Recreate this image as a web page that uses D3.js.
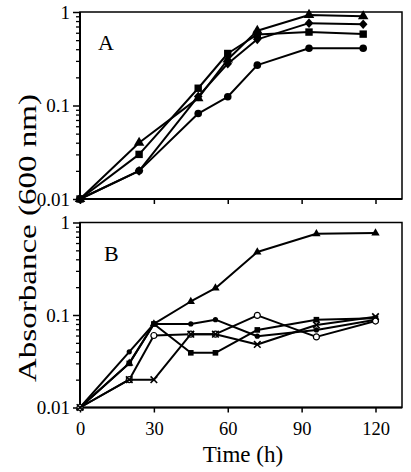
<!DOCTYPE html>
<html><head><meta charset="utf-8">
<script src="https://cdn.jsdelivr.net/npm/d3@7"></script>
<style>body{margin:0;background:#fff}svg{display:block}text{font-family:"Liberation Serif","Times New Roman",serif;fill:#000}</style>
</head><body><svg id="c" width="411" height="472"></svg>
<script>
// Panel A data
const timesA = [0, 24, 48, 60, 72, 93, 115];
const aTriangle = [0.01, 0.04, 0.12, 0.31, 0.63, 0.93, 0.90];
const aSquare   = [0.01, 0.03, 0.153, 0.36, 0.575, 0.61, 0.58];
const aDiamond  = [0.01, 0.02, 0.125, 0.28, 0.51, 0.76, 0.74];
const aCircle   = [0.01, 0.02, 0.082, 0.124, 0.27, 0.41, 0.41];
// Panel B data
const timesB = [0, 20, 30, 45, 55, 72, 96, 120];
const bTriangle = [0.01, 0.03, 0.08, 0.14, 0.195, 0.48, 0.755, 0.77];
const bCircle   = [0.01, 0.04, 0.08, 0.08, 0.089, 0.059, 0.069, 0.089];
const bSquare   = [0.01, 0.03, 0.08, 0.039, 0.039, 0.069, 0.089, 0.092];
const bOpen     = [0.01, 0.02, 0.06, 0.062, 0.062, 0.099, 0.058, 0.086];
const bCross    = [0.01, 0.02, 0.02, 0.062, 0.062, 0.048, 0.078, 0.096];
// Ticks
const xTicks = [0, 30, 60, 90, 120];
const yMajor = [0.01, 0.1, 1];
const yLabels = ["0.01", "0.1", "1"];
const panelNames = ["A", "B"];
const yTitle = "Absorbance (600 nm)";
const xTitle = "Time (h)";

const svg = d3.select("#c");
const x = d3.scaleLinear().domain([0, 120]).range([80, 375.5]);
const xRight = 402;
const yA = d3.scaleLog().domain([0.01, 1]).range([199, 12]);
const yB = d3.scaleLog().domain([0.01, 1]).range([407.5, 222.5]);
const minor = [];
for (let e = -2; e < 0; e++) for (let m = 2; m <= 9; m++) minor.push(m * Math.pow(10, e));

function symbolPath(type, size) {
  return d3.symbol().type(type).size(size)();
}

function panel(y, label, showX) {
  const g = svg.append("g");
  const [y0, y1] = y.range();
  g.append("rect").attr("x", 80).attr("y", y1).attr("width", xRight - 80).attr("height", y0 - y1)
    .attr("fill", "none").attr("stroke", "#000").attr("stroke-width", 1.5);
  g.append("line").attr("x1", 80).attr("x2", 80).attr("y1", y1).attr("y2", y0).attr("stroke", "#000").attr("stroke-width", 2);
  g.append("line").attr("x1", 80).attr("x2", xRight).attr("y1", y0).attr("y2", y0).attr("stroke", "#000").attr("stroke-width", 2);
  const am = g.append("g").attr("transform", "translate(80,0)")
    .call(d3.axisLeft(y).tickValues(minor).tickSize(4).tickFormat(""));
  am.select(".domain").remove();
  am.selectAll("line").attr("stroke-width", 1.3);
  const aM = g.append("g").attr("transform", "translate(80,0)")
    .call(d3.axisLeft(y).tickValues(yMajor).tickSize(7).tickPadding(3)
      .tickFormat((d, i) => yLabels[i]));
  aM.select(".domain").remove();
  aM.selectAll("line").attr("stroke-width", 1.5);
  aM.selectAll("text").attr("font-size", 19).attr("font-family", "Liberation Serif").attr("dy", "0.34em");
  const ax = g.append("g").attr("transform", `translate(0,${y0})`)
    .call(d3.axisBottom(x).tickValues(xTicks).tickSize(5).tickPadding(9)
      .tickFormat(showX ? d3.format("d") : ""));
  ax.select(".domain").remove();
  ax.selectAll("line").attr("stroke-width", 1.5);
  ax.selectAll("text").attr("font-size", 18.5).attr("font-family", "Liberation Serif");
  g.append("text").attr("x", label === "A" ? 98 : 104).attr("y", y1 + 38)
    .attr("font-size", 22).text(label);
  return g;
}

function series(g, times, vals, y, marker) {
  const pts = times.map((t, i) => [x(t), y(vals[i])]);
  g.append("path").attr("d", d3.line()(pts)).attr("fill", "none")
    .attr("stroke", "#000").attr("stroke-width", 2).attr("stroke-linejoin", "round");
  const mg = g.append("g");
  pts.forEach(p => {
    const s = mg.append("g").attr("transform", `translate(${p[0]},${p[1]})`);
    marker(s);
  });
}

const mk = {
  triA: s => s.append("path").attr("d", symbolPath(d3.symbolTriangle, 48)).attr("fill", "#000"),
  sqA: s => s.append("rect").attr("x", -3.7).attr("y", -3.7).attr("width", 7.4).attr("height", 7.4).attr("fill", "#000"),
  diaA: s => s.append("path").attr("d", "M0,-4.8L4.3,0L0,4.8L-4.3,0Z").attr("fill", "#000"),
  cirA: s => s.append("circle").attr("r", 3.8).attr("fill", "#000"),
  triB: s => s.append("path").attr("d", symbolPath(d3.symbolTriangle, 30)).attr("fill", "#000"),
  cirB: s => s.append("circle").attr("r", 2.6).attr("fill", "#000"),
  sqB: s => s.append("rect").attr("x", -2.8).attr("y", -2.8).attr("width", 5.6).attr("height", 5.6).attr("fill", "#000"),
  openB: s => s.append("circle").attr("r", 3).attr("fill", "#fff").attr("stroke", "#000").attr("stroke-width", 1.2),
  crossB: s => s.append("path").attr("d", "M-3.3,-3.3L3.3,3.3M-3.3,3.3L3.3,-3.3").attr("stroke", "#000").attr("stroke-width", 1.6)
};

const gA = panel(yA, panelNames[0], false);
series(gA, timesA, aCircle, yA, mk.cirA);
series(gA, timesA, aDiamond, yA, mk.diaA);
series(gA, timesA, aSquare, yA, mk.sqA);
series(gA, timesA, aTriangle, yA, mk.triA);

const gB = panel(yB, panelNames[1], true);
series(gB, timesB, bSquare, yB, mk.sqB);
series(gB, timesB, bCircle, yB, mk.cirB);
series(gB, timesB, bTriangle, yB, mk.triB);
series(gB, timesB, bOpen, yB, mk.openB);
series(gB, timesB, bCross, yB, mk.crossB);

svg.append("text").attr("transform", "translate(36,238) rotate(-90)")
  .attr("text-anchor", "middle").attr("font-size", 25)
  .attr("textLength", 288).attr("lengthAdjust", "spacingAndGlyphs").text(yTitle);
svg.append("text").attr("x", 243).attr("y", 462).attr("text-anchor", "middle")
  .attr("font-size", 23).text(xTitle);
</script></body></html>
